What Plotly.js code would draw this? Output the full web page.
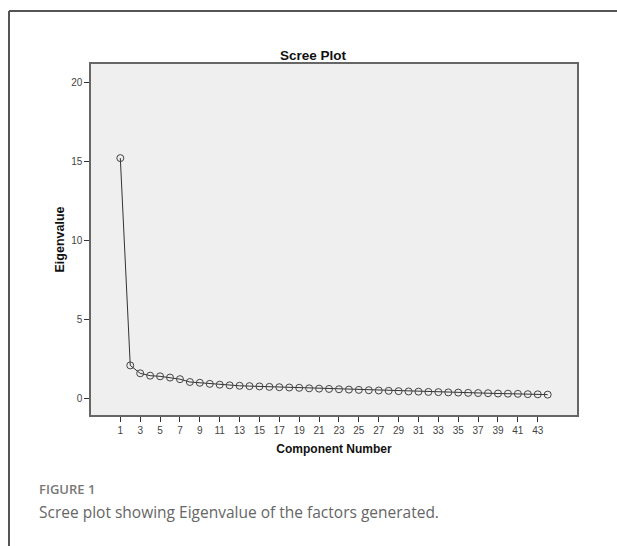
<!DOCTYPE html>
<html>
<head>
<meta charset="utf-8">
<script src="https://cdn.plot.ly/plotly-3.0.1.min.js"></script>
<style>
html,body{margin:0;padding:0;background:#fff;}
#chart{width:617px;height:546px;}
</style>
</head>
<body>
<div id="chart"></div>
<script>
// Component numbers and eigenvalues
const components = [1,2,3,4,5,6,7,8,9,10,11,12,13,14,15,16,17,18,19,20,21,22,23,24,25,26,27,28,29,30,31,32,33,34,35,36,37,38,39,40,41,42,43,44];
const eigenvalues = [15.2,2.07,1.57,1.42,1.38,1.30,1.20,1.02,0.97,0.90,0.85,0.81,0.78,0.76,0.74,0.71,0.69,0.67,0.65,0.62,0.60,0.58,0.56,0.54,0.52,0.50,0.48,0.46,0.44,0.42,0.41,0.39,0.38,0.36,0.35,0.33,0.32,0.31,0.29,0.28,0.27,0.25,0.24,0.22];
const xTicks = [1,3,5,7,9,11,13,15,17,19,21,23,25,27,29,31,33,35,37,39,41,43];
const yTicks = [0,5,10,15,20];
const chartTitle = 'Scree Plot';
const xTitle = 'Component Number';
const yTitle = 'Eigenvalue';
const captionLabel = 'FIGURE 1';
const captionText = 'Scree plot showing Eigenvalue of the factors generated.';

const tickFont = {family: '"Liberation Sans", Arial, sans-serif', size: 10, color: '#444'};
const boldFont = {family: '"Liberation Sans", Arial, sans-serif', size: 12, color: '#111'};

const trace = {
  x: components,
  y: eigenvalues,
  type: 'scatter',
  mode: 'lines+markers',
  line: {color: '#333', width: 1},
  marker: {symbol: 'circle-open', size: 7, color: '#444', line: {width: 1, color: '#444'}},
  hoverinfo: 'x+y'
};

const layout = {
  width: 617, height: 546,
  margin: {l: 91, r: 40, t: 64, b: 131},
  paper_bgcolor: '#fff',
  plot_bgcolor: '#efefef',
  showlegend: false,
  title: {
    text: '<b>' + chartTitle + '</b>',
    font: {family: '"Liberation Sans", Arial, sans-serif', size: 13.5, color: '#111'},
    xref: 'container', yref: 'container',
    x: 313/617, xanchor: 'center',
    y: 1 - 55/546, yanchor: 'middle'
  },
  xaxis: {
    range: [-1.95, 46.95],
    tickmode: 'array', tickvals: xTicks, ticktext: xTicks.map(String),
    ticks: 'outside', ticklen: 5, tickwidth: 1, tickcolor: '#333',
    tickfont: tickFont,
    showgrid: false, zeroline: false,
    showline: true, linecolor: '#666', linewidth: 1.5, mirror: true,
    automargin: false,
    title: {text: '<b>' + xTitle + '</b>', font: boldFont, standoff: 10}
  },
  yaxis: {
    range: [-1.07, 21.16],
    tickmode: 'array', tickvals: yTicks, ticktext: yTicks.map(String),
    ticks: 'outside', ticklen: 5, tickwidth: 1, tickcolor: '#333',
    tickfont: tickFont,
    showgrid: false, zeroline: false,
    showline: true, linecolor: '#666', linewidth: 1.5, mirror: true,
    automargin: false,
    title: {text: '<b>' + yTitle + '</b>', font: Object.assign({}, boldFont, {size: 12.5}), standoff: 4}
  },
  shapes: [
    {type: 'line', xref: 'paper', yref: 'paper',
     x0: (9-91)/486, x1: (9-91)/486, y0: (415-11)/351, y1: (415-560)/351,
     line: {color: '#555', width: 2}},
    {type: 'line', xref: 'paper', yref: 'paper',
     x0: (9-91)/486, x1: (630-91)/486, y0: (415-11)/351, y1: (415-11)/351,
     line: {color: '#555', width: 2}}
  ],
  annotations: [
    {text: captionLabel, xref: 'paper', yref: 'paper', showarrow: false,
     x: (37-91)/486, xanchor: 'left', y: (415-489)/351, yanchor: 'middle',
     font: {family: '"Open Sans", "Noto Sans", sans-serif', size: 13, color: '#777', weight: 600}},
    {text: captionText, xref: 'paper', yref: 'paper', showarrow: false,
     x: (37-91)/486, xanchor: 'left', y: (415-512)/351, yanchor: 'middle',
     font: {family: '"Open Sans", "Noto Sans", sans-serif', size: 15.5, color: '#666'}}
  ]
};

Plotly.newPlot('chart', [trace], layout, {displayModeBar: false, staticPlot: false});
</script>
</body>
</html>
